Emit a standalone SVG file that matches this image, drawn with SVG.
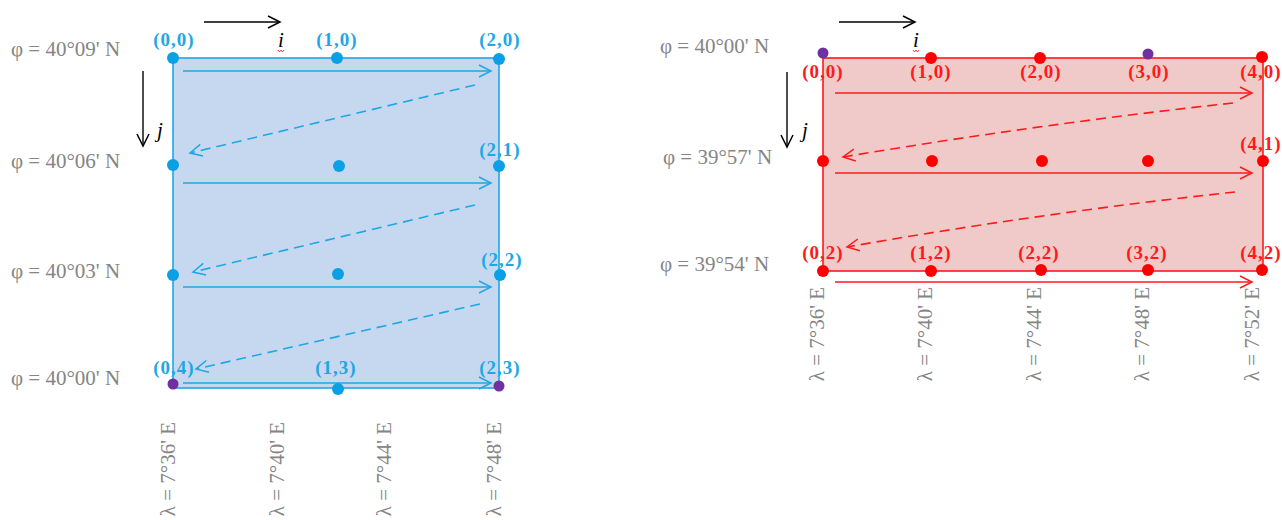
<svg xmlns="http://www.w3.org/2000/svg" width="1282" height="520" viewBox="0 0 1282 520">
<defs>
<marker id="ab" markerUnits="userSpaceOnUse" markerWidth="16" markerHeight="16" refX="13" refY="7" orient="auto"><path d="M1,1 L13,7 L1,13" fill="none" stroke="#1ea7e4" stroke-width="1.5"/></marker>
<marker id="ar" markerUnits="userSpaceOnUse" markerWidth="16" markerHeight="16" refX="13" refY="7" orient="auto"><path d="M1,1 L13,7 L1,13" fill="none" stroke="#ff1a1a" stroke-width="1.5"/></marker>
<marker id="ak" markerUnits="userSpaceOnUse" markerWidth="16" markerHeight="16" refX="13" refY="7" orient="auto"><path d="M1,1 L13,7 L1,13" fill="none" stroke="#000" stroke-width="1.5"/></marker>
</defs>
<style>
.g{font-family:"Liberation Serif",serif;font-size:21px;fill:#858585}
.lb{font-family:"Liberation Serif",serif;font-size:19px;font-weight:bold;fill:#1ea7e4;text-anchor:middle;letter-spacing:1px}
.lr{font-family:"Liberation Serif",serif;font-size:19px;font-weight:bold;fill:#ff1a1a;text-anchor:middle;letter-spacing:1px}
.it{font-family:"Liberation Serif",serif;font-size:21px;font-style:italic;fill:#000}
.sb{stroke:#1ea7e4;stroke-width:1.6;fill:none}
.sr{stroke:#ff1a1a;stroke-width:1.6;fill:none}
.sk{stroke:#000;stroke-width:1.4;fill:none}
.db{fill:#0aa0e6}
.dr{fill:#ff0000}
.dp{fill:#7030a0}
.v{text-anchor:end}
</style>

<!-- Left panel -->
<g id="left-grid">
<rect x="173" y="58" width="326" height="330" fill="#c6d8ef" stroke="#1ea7e4" stroke-width="1.6"/>
</g>
<g id="connectors-left">
<line class="sb" x1="183" y1="71" x2="491" y2="71" marker-end="url(#ab)"/>
<line class="sb" x1="183" y1="183" x2="491" y2="183" marker-end="url(#ab)"/>
<line class="sb" x1="183" y1="287" x2="491" y2="287" marker-end="url(#ab)"/>
<line class="sb" x1="183" y1="383" x2="491" y2="383" marker-end="url(#ab)"/>
<path class="sb" d="M475,85 L190,153" stroke-dasharray="10,6" marker-end="url(#ab)"/>
<path class="sb" d="M475,205 L193,272" stroke-dasharray="10,6" marker-end="url(#ab)"/>
<path class="sb" d="M480,304 L196,369" stroke-dasharray="10,6" marker-end="url(#ab)"/>
<line class="sk" x1="204" y1="22" x2="280" y2="22" marker-end="url(#ak)"/>
<line class="sk" x1="143" y1="71" x2="143" y2="146" marker-end="url(#ak)"/>
</g>
<g id="left-points">
<circle class="db" cx="173" cy="58" r="6"/>
<circle class="db" cx="337" cy="58" r="6"/>
<circle class="db" cx="499" cy="59" r="6"/>
<circle class="db" cx="173" cy="165" r="6"/>
<circle class="db" cx="339" cy="166" r="6"/>
<circle class="db" cx="499" cy="166" r="6"/>
<circle class="db" cx="173" cy="275" r="6"/>
<circle class="db" cx="338" cy="274" r="6"/>
<circle class="db" cx="500" cy="275" r="6"/>
<circle class="dp" cx="173" cy="384" r="5.5"/>
<circle class="db" cx="338" cy="389" r="6"/>
<circle class="dp" cx="499" cy="386" r="5.5"/>
</g>
<g id="left-labels">
<text class="lb" x="174" y="46">(0,0)</text>
<text class="lb" x="337" y="46">(1,0)</text>
<text class="lb" x="500" y="46">(2,0)</text>
<text class="lb" x="500" y="156">(2,1)</text>
<text class="lb" x="502" y="266">(2,2)</text>
<text class="lb" x="174" y="374">(0,4)</text>
<text class="lb" x="336" y="374">(1,3)</text>
<text class="lb" x="500" y="374">(2,3)</text>
<text class="it" x="278" y="47">i</text>
<path d="M278,50 l1.5,2 l1.5,-2 l1.5,2 l1.5,-2" stroke="#e02020" stroke-width="0.8" fill="none"/>
<text class="it" x="157" y="137">j</text>
<text class="g" x="11" y="56">φ = 40°09' N</text>
<text class="g" x="11" y="168">φ = 40°06' N</text>
<text class="g" x="11" y="278">φ = 40°03' N</text>
<text class="g" x="11" y="385">φ = 40°00' N</text>
<text class="g v" transform="translate(175,422) rotate(-90)">λ = 7°36' E</text>
<text class="g v" transform="translate(284,422) rotate(-90)">λ = 7°40' E</text>
<text class="g v" transform="translate(391,422) rotate(-90)">λ = 7°44' E</text>
<text class="g v" transform="translate(501,422) rotate(-90)">λ = 7°48' E</text>
</g>

<!-- Right panel -->
<g id="right-grid">
<rect x="823" y="58" width="440" height="213" fill="#f0c9c9" stroke="#ff1a1a" stroke-width="1.6"/>
</g>
<g id="connectors-right">
<line class="sr" x1="835" y1="93" x2="1252" y2="93" marker-end="url(#ar)"/>
<line class="sr" x1="835" y1="173" x2="1252" y2="173" marker-end="url(#ar)"/>
<line class="sr" x1="835" y1="282" x2="1252" y2="282" marker-end="url(#ar)"/>
<path class="sr" d="M1233,103 Q1040,124 843,157" stroke-dasharray="10,6" marker-end="url(#ar)"/>
<path class="sr" d="M1235,192 Q1040,213 847,247" stroke-dasharray="10,6" marker-end="url(#ar)"/>
<line class="sk" x1="839" y1="22" x2="915" y2="22" marker-end="url(#ak)"/>
<line class="sk" x1="787" y1="72" x2="787" y2="147" marker-end="url(#ak)"/>
</g>
<g id="right-points">
<circle class="dp" cx="823" cy="53" r="5.5"/>
<circle class="dr" cx="931" cy="58" r="6"/>
<circle class="dr" cx="1040" cy="58" r="6"/>
<circle class="dp" cx="1148" cy="54" r="5.5"/>
<circle class="dr" cx="1262" cy="57" r="6"/>
<circle class="dr" cx="823" cy="161" r="6"/>
<circle class="dr" cx="932" cy="161" r="6"/>
<circle class="dr" cx="1042" cy="161" r="6"/>
<circle class="dr" cx="1148" cy="161" r="6"/>
<circle class="dr" cx="1263" cy="161" r="6"/>
<circle class="dr" cx="823" cy="271" r="6"/>
<circle class="dr" cx="931" cy="271" r="6"/>
<circle class="dr" cx="1041" cy="270" r="6"/>
<circle class="dr" cx="1148" cy="270" r="6"/>
<circle class="dr" cx="1262" cy="270" r="6"/>
</g>
<g id="right-labels">
<text class="lr" x="823" y="78">(0,0)</text>
<text class="lr" x="931" y="78">(1,0)</text>
<text class="lr" x="1041" y="78">(2,0)</text>
<text class="lr" x="1149" y="78">(3,0)</text>
<text class="lr" x="1261" y="78">(4,0)</text>
<text class="lr" x="1261" y="150">(4,1)</text>
<text class="lr" x="823" y="259">(0,2)</text>
<text class="lr" x="931" y="259">(1,2)</text>
<text class="lr" x="1039" y="259">(2,2)</text>
<text class="lr" x="1147" y="259">(3,2)</text>
<text class="lr" x="1261" y="259">(4,2)</text>
<text class="it" x="913" y="47">i</text>
<path d="M913,50 l1.5,2 l1.5,-2 l1.5,2 l1.5,-2" stroke="#e02020" stroke-width="0.8" fill="none"/>
<text class="it" x="802" y="137">j</text>
<text class="g" x="660" y="53">φ = 40°00' N</text>
<text class="g" x="663" y="164">φ = 39°57' N</text>
<text class="g" x="660" y="271">φ = 39°54' N</text>
<text class="g v" transform="translate(824,287) rotate(-90)">λ = 7°36' E</text>
<text class="g v" transform="translate(932,287) rotate(-90)">λ = 7°40' E</text>
<text class="g v" transform="translate(1041,287) rotate(-90)">λ = 7°44' E</text>
<text class="g v" transform="translate(1149,287) rotate(-90)">λ = 7°48' E</text>
<text class="g v" transform="translate(1259,287) rotate(-90)">λ = 7°52' E</text>
</g>
</svg>
